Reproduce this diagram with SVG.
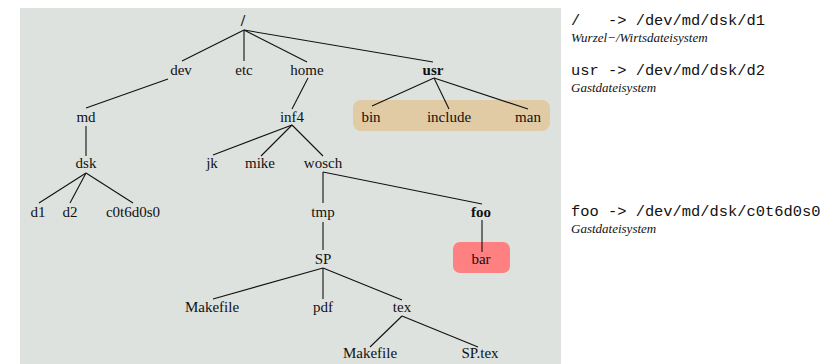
<svg xmlns="http://www.w3.org/2000/svg" width="838" height="364" viewBox="0 0 838 364">
<style>
.t{font-family:'Liberation Serif','Times New Roman',Times,'DejaVu Serif',serif;font-size:15px;fill:#111;text-anchor:middle}
.b{font-weight:bold}
.m{font-family:'Liberation Mono','Courier New',Courier,monospace;font-size:15.4px;fill:#111;white-space:pre}
.i{font-family:'Liberation Serif','Times New Roman',Times,'DejaVu Serif',serif;font-size:13px;font-style:italic;fill:#111}
#edges line{stroke:#111;stroke-width:1.1}
</style>
<rect x="0" y="0" width="838" height="364" fill="#ffffff"/>
<rect x="20" y="8" width="541" height="356" fill="#dee2de"/>
<g id="usr-box"><rect x="353" y="100" width="197" height="31" rx="8" ry="8" fill="#e0cba5"/></g>
<g id="bar-box"><rect x="453" y="242" width="57" height="31" rx="7" ry="7" fill="#ff8080"/></g>
<g id="edges">
<line x1="244" y1="30" x2="182" y2="61"/>
<line x1="244" y1="30" x2="244" y2="61"/>
<line x1="244" y1="30" x2="307" y2="62"/>
<line x1="244" y1="30" x2="433" y2="62"/>
<line x1="168" y1="79" x2="86" y2="108"/>
<line x1="308" y1="78" x2="292" y2="109"/>
<line x1="434" y1="78" x2="372" y2="106"/>
<line x1="434" y1="78" x2="449" y2="109"/>
<line x1="434" y1="78" x2="528" y2="109"/>
<line x1="86" y1="126" x2="86" y2="156"/>
<line x1="292" y1="125" x2="213" y2="155"/>
<line x1="292" y1="125" x2="261" y2="156"/>
<line x1="292" y1="125" x2="323" y2="156"/>
<line x1="86" y1="173" x2="39" y2="203"/>
<line x1="86" y1="173" x2="70" y2="203"/>
<line x1="86" y1="173" x2="133" y2="203"/>
<line x1="323" y1="172" x2="323" y2="203"/>
<line x1="323" y1="172" x2="482" y2="204"/>
<line x1="482" y1="220" x2="482" y2="252"/>
<line x1="323" y1="222" x2="323" y2="250"/>
<line x1="323" y1="268" x2="213" y2="299"/>
<line x1="323" y1="268" x2="323" y2="299"/>
<line x1="323" y1="268" x2="402" y2="300"/>
<line x1="402" y1="316" x2="370" y2="347"/>
<line x1="402" y1="316" x2="478" y2="347"/>
</g>
<g id="n-root"><text class="t b" x="243" y="26" style="font-size:16px">/</text></g>
<g id="n-dev"><text class="t" x="181" y="75">dev</text></g>
<g id="n-etc"><text class="t" x="244" y="75">etc</text></g>
<g id="n-home"><text class="t" x="307" y="75">home</text></g>
<g id="n-usr"><text class="t b" x="433" y="75">usr</text></g>
<g id="n-md"><text class="t" x="86" y="122">md</text></g>
<g id="n-inf4"><text class="t" x="292" y="122">inf4</text></g>
<g id="n-bin"><text class="t" x="371" y="122">bin</text></g>
<g id="n-include"><text class="t" x="449" y="122">include</text></g>
<g id="n-man"><text class="t" x="528" y="122">man</text></g>
<g id="n-dsk"><text class="t" x="86" y="168">dsk</text></g>
<g id="n-jk"><text class="t" x="212" y="168">jk</text></g>
<g id="n-mike"><text class="t" x="260" y="168">mike</text></g>
<g id="n-wosch"><text class="t" x="323" y="168">wosch</text></g>
<g id="n-d1"><text class="t" x="38" y="217">d1</text></g>
<g id="n-d2"><text class="t" x="70" y="217">d2</text></g>
<g id="n-c0t6d0s0"><text class="t" x="133" y="217">c0t6d0s0</text></g>
<g id="n-tmp"><text class="t" x="323" y="217">tmp</text></g>
<g id="n-foo"><text class="t b" x="481" y="217">foo</text></g>
<g id="n-SP"><text class="t" x="323" y="264">SP</text></g>
<g id="n-bar"><text class="t" x="481" y="264">bar</text></g>
<g id="n-makefile1"><text class="t" x="212" y="312">Makefile</text></g>
<g id="n-pdf"><text class="t" x="323" y="312">pdf</text></g>
<g id="n-tex"><text class="t" x="402" y="312">tex</text></g>
<g id="n-makefile2"><text class="t" x="370" y="358">Makefile</text></g>
<g id="n-sptex"><text class="t" x="480" y="358">SP.tex</text></g>
<g id="legend">
<text class="m" x="571" y="25">/   -&gt; /dev/md/dsk/d1</text>
<text class="i" x="571" y="42">Wurzel−/Wirtsdateisystem</text>
<text class="m" x="571" y="75">usr -&gt; /dev/md/dsk/d2</text>
<text class="i" x="571" y="92">Gastdateisystem</text>
<text class="m" x="571" y="216">foo -&gt; /dev/md/dsk/c0t6d0s0</text>
<text class="i" x="571" y="233">Gastdateisystem</text>
</g>
</svg>
